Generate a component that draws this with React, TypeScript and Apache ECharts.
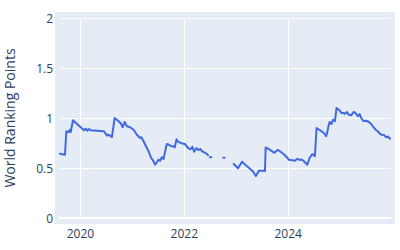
import React, { useEffect, useRef } from "react";
import * as echarts from "echarts";

const years: number[] = [
  2019.606, 2019.702, 2019.727, 2019.76, 2019.798, 2019.812, 2019.856, 2020.067, 2020.1, 2020.131,
  2020.163, 2020.196, 2020.452, 2020.515, 2020.548, 2020.581, 2020.606, 2020.658, 2020.702, 2020.735,
  2020.785, 2020.812, 2020.85, 2020.894, 2020.958, 2021.023, 2021.087, 2021.15, 2021.173, 2021.215,
  2021.279, 2021.312, 2021.362, 2021.408, 2021.438, 2021.504, 2021.535, 2021.567, 2021.6, 2021.631,
  2021.663, 2021.708, 2021.746, 2021.785, 2021.817, 2021.85, 2021.881, 2021.946, 2022.01, 2022.042,
  2022.073, 2022.119, 2022.158, 2022.188, 2022.235, 2022.265, 2022.308, 2022.35, 2022.394, 2022.438,
  2022.458, 2022.48,
  2022.495, 2022.52, 2022.53,
  2022.75, 2022.775, 2022.8,
  2022.952, 2023.035, 2023.112, 2023.196, 2023.265, 2023.323, 2023.379, 2023.437, 2023.515, 2023.554,
  2023.567, 2023.644, 2023.735, 2023.802, 2023.862, 2023.927, 2023.952, 2024.015, 2024.081, 2024.131,
  2024.177, 2024.221, 2024.26, 2024.304, 2024.369, 2024.413, 2024.465, 2024.515, 2024.548, 2024.625,
  2024.688, 2024.735, 2024.773, 2024.798, 2024.837, 2024.862, 2024.9, 2024.933, 2024.977, 2025.029,
  2025.073, 2025.087, 2025.131, 2025.169, 2025.215, 2025.26, 2025.298, 2025.342, 2025.375, 2025.408,
  2025.452, 2025.504, 2025.554, 2025.6, 2025.631, 2025.683, 2025.727, 2025.773, 2025.812, 2025.856,
  2025.888, 2025.923, 2025.962,
];

const points: (number | null)[] = [
  0.643, 0.633, 0.867, 0.857, 0.883, 0.857, 0.977, 0.877, 0.893, 0.873,
  0.89, 0.877, 0.867, 0.823, 0.833, 0.817, 0.81, 1.0, 0.983, 0.967,
  0.94, 0.907, 0.96, 0.917, 0.907, 0.883, 0.833, 0.8, 0.807, 0.767,
  0.7, 0.667, 0.6, 0.567, 0.533, 0.583, 0.573, 0.607, 0.59, 0.667,
  0.74, 0.733, 0.717, 0.717, 0.707, 0.787, 0.763, 0.747, 0.74, 0.72,
  0.7, 0.687, 0.713, 0.663, 0.7, 0.68, 0.69, 0.663, 0.653, 0.64,
  0.627, null,
  0.607, 0.607, null,
  0.603, 0.603, null,
  0.54, 0.497, 0.563, 0.523, 0.493, 0.465, 0.42, 0.473, 0.473, 0.47,
  0.705, 0.683, 0.652, 0.683, 0.66, 0.633, 0.62, 0.583, 0.577, 0.573,
  0.593, 0.58, 0.585, 0.567, 0.533, 0.6, 0.64, 0.617, 0.9, 0.873,
  0.85, 0.817, 0.907, 0.96, 0.94, 0.983, 0.967, 1.1, 1.083, 1.05,
  1.05, 1.04, 1.06, 1.033, 1.027, 1.06, 1.05, 1.017, 1.04, 1.0,
  0.967, 0.973, 0.96, 0.94, 0.917, 0.883, 0.867, 0.84, 0.833, 0.827,
  0.807, 0.815, 0.793,
];

const xTicks: number[] = [2020, 2022, 2024];
const yTicks: number[] = [0, 0.5, 1, 1.5, 2];
const xMin = 2019.606;
const xMax = 2025.962;

const textColor = "#2a3f5f";
const font = "'Open Sans', Verdana, Arial, sans-serif";

export default function App() {
  const ref = useRef<HTMLDivElement>(null);
  useEffect(() => {
    if (!ref.current) return;
    const chart = echarts.init(ref.current, undefined, { renderer: "svg" });
    const data = years.map((x, i) => [x, points[i] === null ? "-" : points[i]]);
    chart.setOption({
      animation: false,
      backgroundColor: "#fff",
      grid: { left: 60, right: 10, top: 18, bottom: 32, containLabel: false, outerBoundsMode: "none" },
      graphic: [
        {
          type: "rect",
          z: -10,
          zlevel: 0,
          silent: true,
          shape: { x: 55, y: 12, width: 340, height: 212 },
          style: { fill: "#E5ECF6" },
        },
      ],
      xAxis: {
        type: "value",
        min: xMin,
        max: xMax,
        axisLine: { show: true, onZero: false, lineStyle: { color: "#fff", width: 2 } },
        axisTick: { show: false, customValues: xTicks },
        axisLabel: {
          customValues: xTicks,
          color: textColor,
          fontFamily: font,
          fontSize: 12,
          margin: 9,
          formatter: (v: number) => String(Math.round(v)),
        },
        splitLine: { show: true, lineStyle: { color: "#fff", width: 1 } },
      },
      yAxis: {
        type: "value",
        min: yTicks[0],
        max: yTicks[yTicks.length - 1],
        interval: 0.5,
        name: "World Ranking Points",
        nameLocation: "middle",
        nameGap: 44,
        nameTextStyle: { color: textColor, fontFamily: font, fontSize: 14 },
        axisLine: { show: false },
        axisTick: { show: false },
        axisLabel: {
          color: textColor,
          fontFamily: font,
          fontSize: 12,
          margin: 7,
          formatter: (v: number) => String(v),
        },
        splitLine: { show: true, lineStyle: { color: "#fff", width: 1 } },
      },
      series: [
        {
          type: "line",
          data,
          showSymbol: false,
          connectNulls: false,
          lineStyle: { color: "#4169E1", width: 2, cap: "round", join: "round" },
          itemStyle: { color: "#4169E1" },
        },
      ],
    });
    return () => chart.dispose();
  }, []);
  return <div ref={ref} style={{ width: 400, height: 250, position: "absolute", left: 0, top: 0 }} />;
}
